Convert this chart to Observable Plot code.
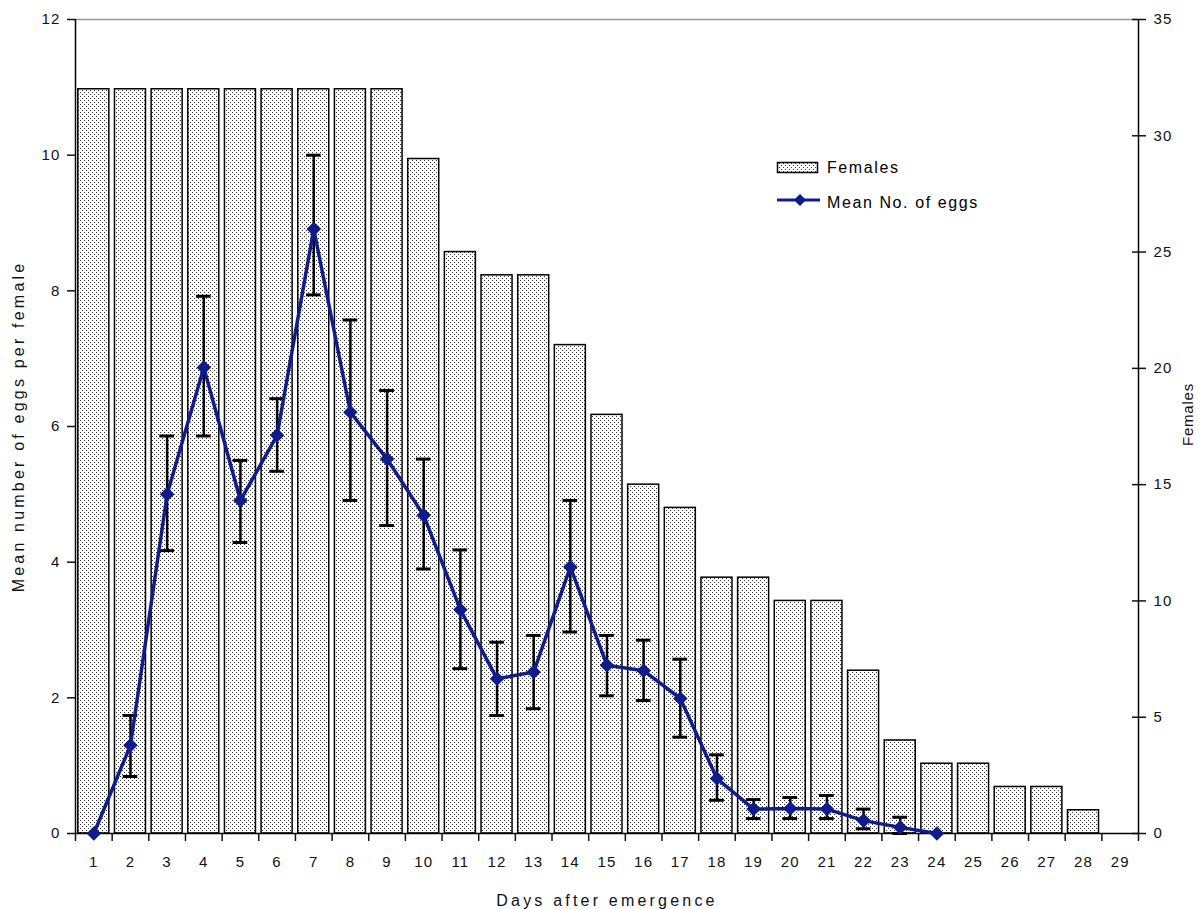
<!DOCTYPE html>
<html><head><meta charset="utf-8">
<script src="https://cdn.jsdelivr.net/npm/d3@7"></script>
<script src="https://cdn.jsdelivr.net/npm/@observablehq/plot@0.6"></script>
<style>
body{margin:0;background:#fff;}
#wrap{position:relative;width:1204px;height:909px;}
#legend{position:absolute;left:770px;top:150px;}
svg text{font-family:"Liberation Sans",Arial,sans-serif;}
</style></head><body><div id="wrap"></div>
<script>
// ---- data ----
const days = [1,2,3,4,5,6,7,8,9,10,11,12,13,14,15,16,17,18,19,20,21,22,23,24,25,26,27,28,29];
const females = [32,32,32,32,32,32,32,32,32,29,25,24,24,21,18,15,14,11,11,10,10,7,4,3,3,2,2,1,0];
const eggDays = [1,2,3,4,5,6,7,8,9,10,11,12,13,14,15,16,17,18,19,20,21,22,23,24];
const eggMean = [0,1.30,5.00,6.87,4.91,5.87,8.91,6.21,5.52,4.69,3.30,2.28,2.38,3.93,2.48,2.40,1.99,0.81,0.36,0.37,0.36,0.19,0.09,0];
const errLow  = [null,0.84,4.17,5.86,4.29,5.34,7.94,4.91,4.54,3.90,2.43,1.74,1.84,2.97,2.03,1.96,1.42,0.49,0.22,0.22,0.22,0.07,0.00,null];
const errHigh = [null,1.74,5.86,7.92,5.50,6.41,10.00,7.57,6.53,5.52,4.18,2.82,2.92,4.91,2.92,2.85,2.57,1.16,0.50,0.53,0.56,0.36,0.24,null];
const leftTicks = [0,2,4,6,8,10,12];
const rightTicks = [0,5,10,15,20,25,30,35];
const leftMax = 12, rightMax = 35;
const lineColor = "#101c8c";

// ---- derived tables ----
const k = leftMax / rightMax;
const bars = days.map((d, i) => ({day: d, females: females[i]}));
const eggs = eggDays.map((d, i) => ({day: d, mean: eggMean[i], lo: errLow[i], hi: errHigh[i]}));
const errs = eggs.filter(d => d.lo != null);
const boundaries = [days[0] - 0.5, ...days.map(d => d + 0.5)];
const halfBar = 0.423, halfCap = 0.2;

const defs = () => {
  const g = d3.create("svg:g");
  const p = g.append("defs").append("pattern").attr("id", "dots")
    .attr("width", 4).attr("height", 4).attr("patternUnits", "userSpaceOnUse");
  p.append("rect").attr("width", 4).attr("height", 4).attr("fill", "#fff");
  p.append("rect").attr("x", 0).attr("y", 0).attr("width", 1).attr("height", 1).attr("fill", "#333");
  p.append("rect").attr("x", 2).attr("y", 2).attr("width", 1).attr("height", 1).attr("fill", "#333");
  return g.node();
};

const chart = Plot.plot({
  width: 1204, height: 909,
  marginLeft: 75, marginRight: 66, marginTop: 19, marginBottom: 76,
  x: {domain: [boundaries[0], boundaries[boundaries.length - 1]]},
  y: {domain: [0, leftMax]},
  style: {fontFamily: "'Liberation Sans', Arial, sans-serif", fontSize: "15px", color: "#111", background: "#fff"},
  marks: [
    defs,
    Plot.ruleY([leftMax], {stroke: "#999", strokeWidth: 1.5}),
    Plot.rectY(bars, {x1: d => d.day - halfBar, x2: d => d.day + halfBar, y1: 0, y2: d => d.females * k,
      fill: "url(#dots)", stroke: "#000", strokeWidth: 1.5}),
    Plot.ruleY([0], {stroke: "#000", strokeWidth: 1.5}),
    Plot.ruleX([boundaries[0]], {stroke: "#000", strokeWidth: 1.5}),
    Plot.ruleX([boundaries[boundaries.length - 1]], {stroke: "#000", strokeWidth: 1.5}),
    Plot.axisX({ticks: boundaries, tickSize: 8, tickFormat: () => "", label: null, strokeWidth: 1.5}),
    Plot.axisX({ticks: days, tickSize: 0, tickPadding: 23, label: "Days after emergence",
      labelAnchor: "center", labelOffset: 72, labelArrow: "none"}),
    Plot.axisY({ticks: leftTicks, tickSize: 8, tickPadding: 7, label: "Mean number of eggs per female",
      labelAnchor: "center", labelOffset: 63, labelArrow: "none", strokeWidth: 1.5}),
    Plot.axisY({anchor: "right", ticks: rightTicks.map(v => v * k), tickSize: 14, dx: -7,
      tickFormat: () => "", label: null, strokeWidth: 1.5}),
    Plot.axisY({anchor: "right", ticks: rightTicks.map(v => v * k), tickSize: 0, tickPadding: 15,
      tickFormat: v => String(Math.round(v / k)), label: "Females",
      labelAnchor: "center", labelOffset: 54, labelArrow: "none"}),
    Plot.ruleX(errs, {x: "day", y1: "lo", y2: "hi", stroke: "#000", strokeWidth: 2.5}),
    Plot.ruleY(errs, {y: "hi", x1: d => d.day - halfCap, x2: d => d.day + halfCap, stroke: "#000", strokeWidth: 3}),
    Plot.ruleY(errs, {y: "lo", x1: d => d.day - halfCap, x2: d => d.day + halfCap, stroke: "#000", strokeWidth: 3}),
    Plot.line(eggs, {x: "day", y: "mean", stroke: lineColor, strokeWidth: 3.5}),
    Plot.dot(eggs, {x: "day", y: "mean", symbol: "diamond2", r: 5.6, fill: lineColor, stroke: lineColor})
  ]
});
chart.querySelectorAll("text").forEach(t => { t.style.fontSize = "15px"; t.style.letterSpacing = "1.2px"; });
chart.querySelectorAll('g[aria-label$="axis label"] text').forEach(t => {
  const txt = t.textContent;
  if (txt === "Females") {
    t.style.fontSize = "15px"; t.style.letterSpacing = "0.8px";
    const tr = t.getAttribute("transform") || "";
    t.setAttribute("transform", tr.replace(/translate\(([^,]+),([^)]+)\)/, (m, a, b) => `translate(${a},${+b - 12})`));
  } else {
    t.style.fontSize = "16px"; t.style.letterSpacing = "3.2px";
  }
});
const wrap = document.getElementById("wrap");
wrap.appendChild(chart);

// legend
const L = d3.select(wrap).append("svg").attr("id", "legend").attr("width", 240).attr("height", 70);
const lp = L.append("defs").append("pattern").attr("id", "dotsL")
  .attr("width", 4).attr("height", 4).attr("patternUnits", "userSpaceOnUse");
lp.append("rect").attr("width", 4).attr("height", 4).attr("fill", "#fff");
lp.append("rect").attr("x", 1).attr("y", 1).attr("width", 1).attr("height", 1).attr("fill", "#333");
lp.append("rect").attr("x", 3).attr("y", 3).attr("width", 1).attr("height", 1).attr("fill", "#333");
L.append("rect").attr("x", 7.5).attr("y", 12.5).attr("width", 40).attr("height", 10)
  .attr("fill", "url(#dotsL)").attr("stroke", "#000").attr("stroke-width", 1.5);
L.append("text").attr("x", 57).attr("y", 17).attr("dy", "0.35em").attr("font-size", 16)
  .style("letter-spacing", "1.6px").text("Females");
L.append("line").attr("x1", 7).attr("x2", 50).attr("y1", 50).attr("y2", 50)
  .attr("stroke", lineColor).attr("stroke-width", 3);
L.append("path").attr("d", d3.symbol(d3.symbolDiamond2, 95)()).attr("transform", "translate(30,50)")
  .attr("fill", lineColor);
L.append("text").attr("x", 57).attr("y", 52).attr("dy", "0.35em").attr("font-size", 16)
  .style("letter-spacing", "1.6px").text("Mean No. of eggs");
</script></body></html>
